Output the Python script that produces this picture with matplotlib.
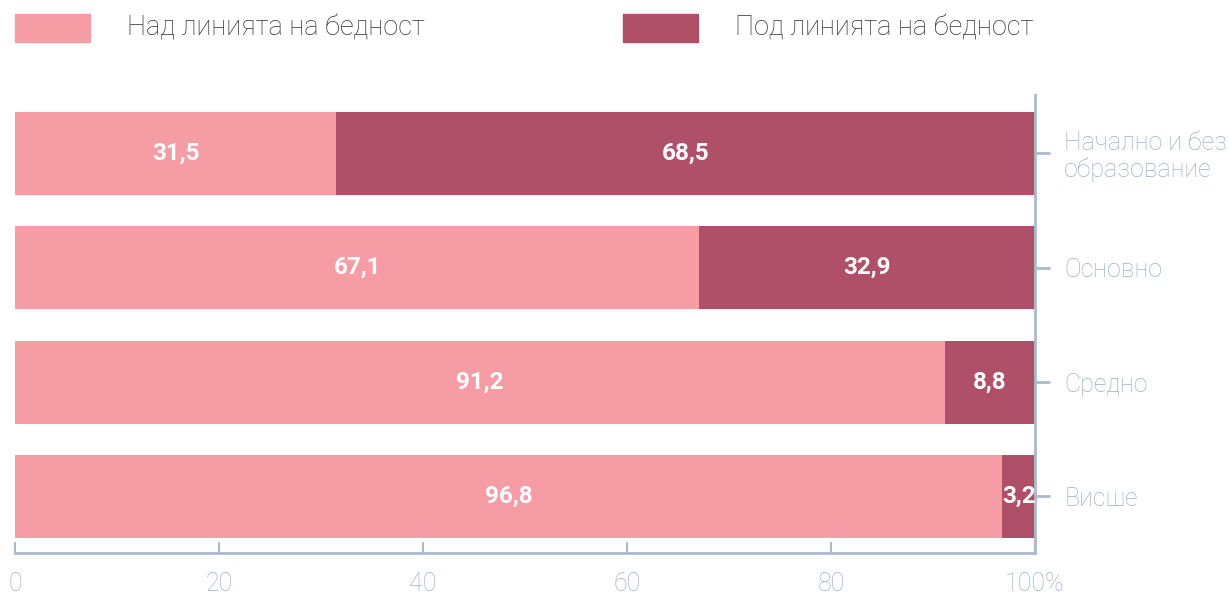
import numpy as np
import matplotlib.pyplot as plt
from matplotlib.patches import Rectangle

# data
categories = ['Начално и без\nобразование', 'Основно', 'Средно', 'Висше']
above = [31.5, 67.1, 91.2, 96.8]
below = [68.5, 32.9, 8.8, 3.2]
above_lbl = ['31,5', '67,1', '91,2', '96,8']
below_lbl = ['68,5', '32,9', '8,8', '3,2']
xticks = [0, 20, 40, 60, 80, 100]
xtick_lbl = ['0', '20', '40', '60', '80', '100%']

c_above = '#F59CA5'
c_below = '#B04F68'
c_axis = '#A9BAD2'
c_lbl = '#9DB0CB'
c_text = '#333333'

plt.rcParams['font.family'] = ['Roboto', 'DejaVu Sans']

fig = plt.figure(figsize=(12.29, 5.96), dpi=100)
ax = fig.add_axes([15 / 1229, 43 / 596, 1020 / 1229, 458 / 596])

y = np.arange(len(categories))
h = 0.726
ax.barh(y, above, height=h, color=c_above)
ax.barh(y, below, left=above, height=h, color=c_below)

for i in range(len(categories)):
    ax.text(above[i] / 2, y[i], above_lbl[i], ha='center', va='center',
            color='white', fontsize=17.5, fontweight='bold')
    ax.text(above[i] + below[i] / 2, y[i], below_lbl[i], ha='center', va='center',
            color='white', fontsize=17.5, fontweight='bold')

ax.set_xlim(0, 100)
ax.set_ylim(3.494, -0.51)

ax.set_xticks(xticks)
ax.set_xticklabels(xtick_lbl)
ax.yaxis.tick_right()
ax.set_yticks(y)
ax.set_yticklabels(categories, linespacing=1.1)

for s in ['left', 'top']:
    ax.spines[s].set_visible(False)
for s in ['right', 'bottom']:
    ax.spines[s].set_color(c_axis)
    ax.spines[s].set_linewidth(2)

ax.tick_params(axis='x', direction='in', length=8, width=1.5, color=c_axis,
               labelcolor=c_lbl, labelsize=18, pad=14)
ax.tick_params(axis='y', direction='out', length=11, width=2, color=c_axis,
               labelcolor=c_lbl, labelsize=18, pad=10)
for t in ax.get_xticklabels() + ax.get_yticklabels():
    t.set_fontweight('light')

# legend
fig.add_artist(Rectangle((15 / 1229, 1 - 42 / 596), 75 / 1229, 28 / 596,
                         transform=fig.transFigure, color=c_above))
fig.text(127 / 1229, 1 - 28 / 596, 'Над линията на бедност', ha='left', va='center',
         fontsize=19.5, color=c_text, fontweight='light')
fig.add_artist(Rectangle((623 / 1229, 1 - 42 / 596), 75 / 1229, 28 / 596,
                         transform=fig.transFigure, color=c_below))
fig.text(735 / 1229, 1 - 28 / 596, 'Под линията на бедност', ha='left', va='center',
         fontsize=19.5, color=c_text, fontweight='light')

fig.savefig('out.png', dpi=100)
